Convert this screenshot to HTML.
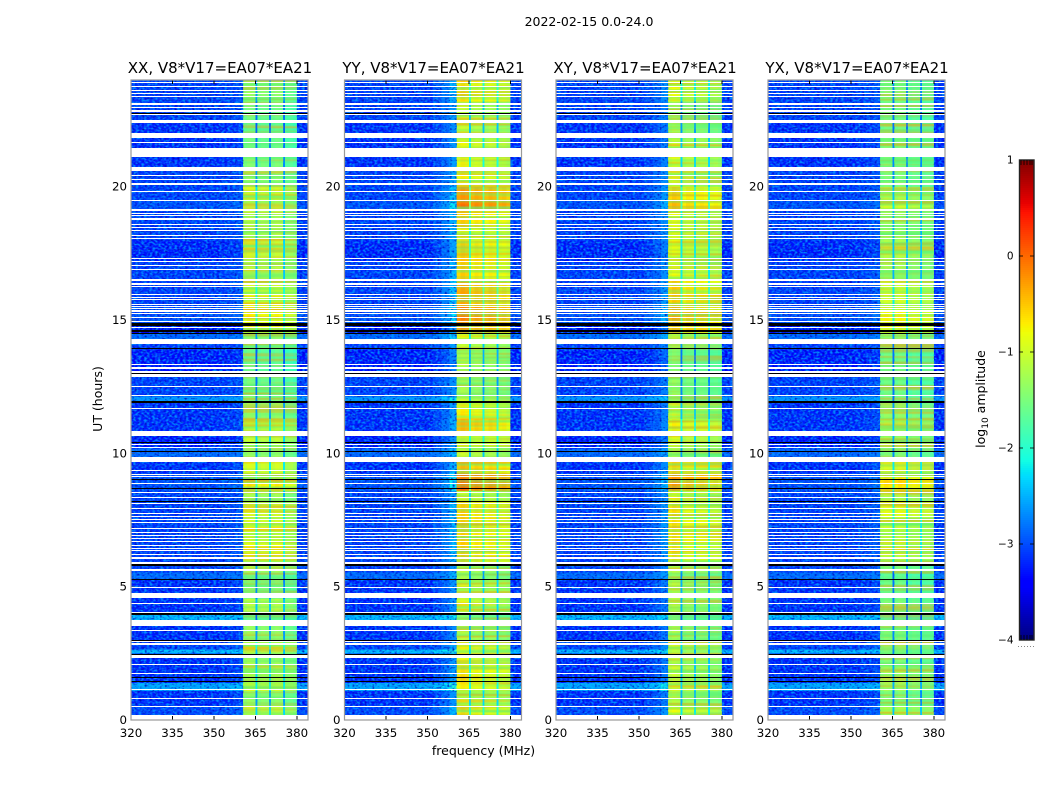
<!DOCTYPE html>
<html>
<head>
<meta charset="utf-8">
<title>2022-02-15 amplitude waterfall</title>
<style>
html,body{margin:0;padding:0;background:#fff;width:1050px;height:800px;overflow:hidden}
svg{display:block}
text{font-family:"DejaVu Sans","Liberation Sans",sans-serif;fill:#000}
.tick{font-size:11.8px}
.title{font-size:15px}
.label{font-size:12.5px}
</style>
</head>
<body>
<svg id="chart" width="1050" height="800" viewBox="0 0 1050 800" xmlns="http://www.w3.org/2000/svg">
  <defs>
    <filter id="speck-light" x="0" y="0" width="100%" height="100%" color-interpolation-filters="sRGB">
      <feTurbulence type="fractalNoise" baseFrequency="0.36 0.5" numOctaves="1" seed="3"/>
      <feColorMatrix type="matrix" values="0 0 0 0 0  0 0 0 0 0.55  0 0 0 0 1  3 0 0 0 -1.2"/>
    </filter>
    <filter id="speck-dark" x="0" y="0" width="100%" height="100%" color-interpolation-filters="sRGB">
      <feTurbulence type="fractalNoise" baseFrequency="0.4 0.55" numOctaves="1" seed="11"/>
      <feColorMatrix type="matrix" values="0 0 0 0 0  0 0 0 0 0  0 0 0 0 0.7  0 3 0 0 -1.6"/>
    </filter>
    <filter id="streak-cool" x="0" y="0" width="100%" height="100%" color-interpolation-filters="sRGB">
      <feTurbulence type="fractalNoise" baseFrequency="0.006 0.3" numOctaves="1" seed="5"/>
      <feColorMatrix type="matrix" values="0 0 0 0 0.35  0 0 0 0 0.95  0 0 0 0 0.45  2 0 0 0 -0.75"/>
    </filter>
    <filter id="streak-warm" x="0" y="0" width="100%" height="100%" color-interpolation-filters="sRGB">
      <feTurbulence type="fractalNoise" baseFrequency="0.006 0.34" numOctaves="1" seed="19"/>
      <feColorMatrix type="matrix" values="0 0 0 0 1  0 0 0 0 0.6  0 0 0 0 0  0 2 0 0 -0.95"/>
    </filter>
  </defs>
  <text x="589" y="26" text-anchor="middle" font-size="12.5">2022-02-15 0.0-24.0</text>
  <text class="label" x="483.5" y="755" text-anchor="middle">frequency (MHz)</text>
  <text class="label" x="0" y="0" text-anchor="middle" transform="translate(102,399) rotate(-90)">UT (hours)</text>
  <text class="label" x="0" y="0" text-anchor="middle" transform="translate(985,399) rotate(-90)">log<tspan font-size="9" dy="3">10</tspan><tspan dy="-3"> amplitude</tspan></text>
</svg>
<script>
// Time-bin edges (UT hours).
var timeEdges = [0,0.55,1.1,1.4,2.05,2.5,2.65,2.95,3.75,3.95,4.55,5.3,5.55,5.9,7.4,8.2,8.6,9.25,9.87,10.2,10.85,11.3,11.9,12.15,13,13.9,14.3,14.5,14.9,15.5,16.5,17.2,18,18.5,19.1,19.5,20,20.6,21.45,22,22.5,23.2,24];
// Off-band log10 amplitude per time bin.
var backgroundLevels = [-3.1,-3.25,-2.5,-3.25,-3.25,-2.4,-3.15,-3.25,-2.4,-3.25,-3.25,-2.9,-3.15,-3.15,-3.15,-3.15,-3.05,-3.25,-2.9,-3.35,-3.25,-3.25,-2.6,-3.15,-3.35,-3.15,-2.9,-3.5,-3.05,-3.15,-3.15,-3.3,-3.15,-3.15,-3.05,-3.15,-3.15,-3.25,-3.25,-3.25,-3.15,-3.15];
// In-band log10 amplitude per time bin, one array per correlation.
var bandXX = [-1.2,-1.5,-1.1,-1.2,-1.4,-1.3,-1.0,-1.5,-1.8,-1.3,-1.6,-1.7,-1.4,-1.0,-1.1,-1.4,-0.8,-1.1,-1.5,-1.2,-1.1,-1.5,-1.6,-1.7,-1.8,-1.7,-1.5,-0.8,-0.9,-1.0,-1.3,-1.2,-1.3,-1.3,-1.3,-1.1,-1.5,-1.6,-1.7,-1.8,-1.7,-1.5];
var bandYY = [-0.9,-1.2,-1.0,-0.9,-1.1,-1.2,-1.1,-1.4,-1.7,-1.2,-1.2,-1.5,-1.4,-0.8,-0.8,-1.2,-0.3,-0.7,-1.3,-1.0,-0.7,-1.0,-1.3,-1.5,-1.4,-1.3,-1.1,-0.5,-0.4,-0.6,-0.8,-0.8,-1.0,-0.8,-0.3,-0.5,-1.0,-1.0,-1.1,-1.3,-1.3,-0.9];
var bandXY = [-1.1,-1.4,-1.2,-1.3,-1.3,-1.4,-1.2,-1.5,-1.8,-1.4,-1.4,-1.6,-1.4,-0.9,-0.9,-1.1,-0.5,-0.9,-1.5,-1.2,-1.0,-1.3,-1.6,-1.6,-1.7,-1.5,-1.3,-0.7,-0.6,-0.8,-1.1,-1.1,-1.1,-1.1,-0.7,-0.8,-1.2,-1.2,-1.3,-1.5,-1.6,-1.1];
var bandYX = [-1.3,-1.6,-1.4,-1.4,-1.6,-1.6,-1.5,-1.6,-1.9,-1.6,-1.7,-1.8,-1.6,-1.1,-1.0,-1.3,-0.8,-1.1,-1.6,-1.4,-1.3,-1.5,-1.7,-1.7,-1.7,-1.7,-1.5,-0.9,-0.9,-1.1,-1.4,-1.3,-1.4,-1.4,-1.1,-1.3,-1.6,-1.6,-1.6,-1.7,-1.7,-1.6];
// Frequency-bin edges (MHz) with each bin's role and in-band offset.
var channelEdges = [320,352,355,358,360.5,362,363.5,365,365.7,367,368.5,369.9,370.6,372,373.5,375,375.7,377,378.5,380,384];
var channelRoles = ['bg','tail1','tail2','tail3','s0','s0','s0','gap','s1','s1','s1','gap','s2','s2','s2','gap','s3','s3','s3','bg'];
var channelShape = [0,0,0,0,-0.05,0.05,0,-1.1,-0.05,0.05,0,-1.1,-0.05,0.05,0,-1.1,0,0.05,-0.05,0];
var tailFractions = [0.07,0.16,0.3];
// Per-panel sub-band offsets and tail strength.
var subbandXX = [0.15,0.05,0.1,-0.15];
var subbandYY = [0.25,0.1,0.05,-0.05];
var subbandXY = [0.25,0.05,0,-0.1];
var subbandYX = [0.1,0.1,-0.05,-0.1];
var tailStrength = [0.25,1,0.8,0.3];
// Fully flagged (white) time ranges in UT hours.
var flaggedRanges = [[0,0.19],[0.48,0.51],[0.78,0.81],[1.1,1.15],[1.71,1.75],[2.05,2.09],[2.34,2.44],[2.82,2.88],[2.93,2.97],[3.34,3.38],[3.55,3.76],[4.02,4.06],[4.35,4.39],[4.55,4.75],[4.96,5],[5.56,5.65],[5.85,5.91],[6.01,6.1],[6.18,6.23],[6.31,6.36],[6.41,6.46],[6.52,6.56],[6.68,6.71],[6.78,6.81],[6.9,6.94],[7.02,7.06],[7.15,7.2],[7.38,7.43],[7.5,7.54],[7.6,7.64],[7.7,7.75],[7.9,7.94],[8.07,8.12],[8.33,8.38],[8.52,8.56],[8.83,8.87],[9.11,9.15],[9.2,9.24],[9.31,9.36],[9.7,9.87],[10.19,10.24],[10.3,10.35],[10.65,10.85],[11.64,11.69],[12.15,12.19],[12.49,12.53],[12.86,12.96],[13.02,13.1],[13.17,13.23],[13.3,13.34],[14.1,14.29],[14.71,14.75],[14.93,14.97],[15.09,15.13],[15.21,15.25],[15.32,15.38],[15.42,15.46],[15.5,15.53],[15.57,15.61],[15.75,15.79],[15.84,15.88],[15.94,15.98],[16.22,16.26],[16.32,16.38],[16.46,16.52],[16.89,16.93],[17.03,17.07],[17.18,17.21],[17.28,17.33],[18.04,18.08],[18.15,18.19],[18.32,18.36],[18.43,18.47],[18.56,18.6],[18.73,18.82],[18.88,18.92],[18.98,19.01],[19.11,19.18],[19.45,19.5],[19.77,19.82],[20.06,20.12],[20.23,20.28],[20.37,20.42],[20.59,20.74],[21.12,21.44],[21.65,21.68],[21.84,22.01],[22.38,22.5],[22.67,22.71],[22.8,22.86],[22.94,22.98],[23.04,23.13],[23.36,23.4],[23.47,23.51],[23.58,23.62],[23.71,23.76],[23.87,23.91]];
// Zero-amplitude (black) time ranges in UT hours.
var blackRanges = [[1.44,1.47],[1.56,1.6],[2.45,2.49],[2.97,3],[3.94,4.02],[5.25,5.29],[5.79,5.85],[8.18,8.22],[8.65,8.69],[9,9.04],[10.05,10.1],[10.4,10.44],[11.9,11.97],[13,13.02],[13.89,13.94],[14.5,14.53],[14.56,14.63],[14.77,14.87],[22.73,22.78]];
// Axis ticks and labels.
var freqTicks = [320,335,350,365,380];
var hourTicks = [0,5,10,15,20];
var colorbarTicks = [1,0,-1,-2,-3,-4];
var panelNames = ['XX','YY','XY','YX'];
var panelLefts = [131,344.5,556,768];

var bandSeries = [bandXX,bandYY,bandXY,bandYX];
var subbandSeries = [subbandXX,subbandYY,subbandXY,subbandYX];
var NS = 'http://www.w3.org/2000/svg';
var chart = document.getElementById('chart');
var PANEL_W = 177, PANEL_TOP = 80, PANEL_BOTTOM = 720;

function yScale(h){ return PANEL_BOTTOM - (h/24)*(PANEL_BOTTOM-PANEL_TOP); }
function xScale(left,f){ return left + (f-320)*(PANEL_W/64); }
function cbScale(v){ return 640 - (v+4)*96; }
function ramp(t,pts){
  for(var i=1;i<pts.length;i++){
    if(t<=pts[i][0]){
      var a=pts[i-1],b=pts[i];
      return a[1]+(b[1]-a[1])*(t-a[0])/(b[0]-a[0]);
    }
  }
  return pts[pts.length-1][1];
}
function jet(v){
  var t=Math.max(0,Math.min(1,(v+4)/5));
  var r=ramp(t,[[0,0],[0.35,0],[0.66,1],[0.89,1],[1,0.5]]);
  var g=ramp(t,[[0,0],[0.125,0],[0.375,1],[0.64,1],[0.91,0],[1,0]]);
  var b=ramp(t,[[0,0.5],[0.11,1],[0.34,1],[0.65,0],[1,0]]);
  return 'rgb('+Math.round(r*255)+','+Math.round(g*255)+','+Math.round(b*255)+')';
}
function make(tag,parent,attrs){
  var el=document.createElementNS(NS,tag);
  for(var k in attrs){ el.setAttribute(k,attrs[k]); }
  parent.appendChild(el);
  return el;
}
function cellValue(p,t,c){
  var role=channelRoles[c], bg=backgroundLevels[t], band=bandSeries[p][t];
  if(role==='bg'){ return bg; }
  if(role.indexOf('tail')===0){
    var frac=tailFractions[parseInt(role.charAt(4),10)-1]*tailStrength[p];
    return bg+(band-bg)*frac;
  }
  if(role==='gap'){ return band+channelShape[c]; }
  return band+subbandSeries[p][parseInt(role.charAt(1),10)]+channelShape[c];
}

panelNames.forEach(function(name,p){
  var left=panelLefts[p];
  var panel=make('g',chart,{});
  
  

  // heatmap cells
  var cells=make('g',panel,{'shape-rendering':'crispEdges'});
  
  
  for(var t=0;t<backgroundLevels.length;t++){
    for(var c=0;c<channelRoles.length;c++){
      var x0=xScale(left,channelEdges[c]), x1=xScale(left,channelEdges[c+1]);
      var y0=yScale(timeEdges[t+1]), y1=yScale(timeEdges[t]);
      var cell=make('rect',cells,{x:x0,y:y0,width:x1-x0+0.3,height:y1-y0+0.3,fill:jet(cellValue(p,t,c))});
      
      
    }
  }

  // decorative receiver-noise texture on the off-band regions
  [[320,360.5],[380,384]].forEach(function(span){
    ['speck-light','speck-dark'].forEach(function(fid){
      var tex=make('rect',panel,{x:xScale(left,span[0]),y:PANEL_TOP,width:xScale(left,span[1])-xScale(left,span[0]),height:PANEL_BOTTOM-PANEL_TOP,filter:'url(#'+fid+')'});
      
      
    });
  });
  // decorative horizontal ripple inside each sub-band
  [[360.5,365],[365.7,369.9],[370.6,375],[375.7,380]].forEach(function(span){
    ['streak-cool','streak-warm'].forEach(function(fid){
      var tex=make('rect',panel,{x:xScale(left,span[0]),y:PANEL_TOP,width:xScale(left,span[1])-xScale(left,span[0]),height:PANEL_BOTTOM-PANEL_TOP,filter:'url(#'+fid+')'});
      
      
    });
  });

  // flagged and black rows
  var rows=make('g',panel,{'shape-rendering':'crispEdges'});
  
  
  flaggedRanges.forEach(function(r){
    var top=Math.round(yScale(r[1]));
    var el=make('rect',rows,{x:left,y:top,width:PANEL_W,height:Math.max(1,Math.round(yScale(r[0])-yScale(r[1]))),fill:'#fff'});
    
    
  });
  blackRanges.forEach(function(r){
    var top=Math.round(yScale(r[1]));
    var el=make('rect',rows,{x:left,y:top,width:PANEL_W,height:Math.max(1,Math.round(yScale(r[0])-yScale(r[1]))),fill:'#000'});
    
    
  });

  // ticks
  var ax=make('g',panel,{stroke:'#000','stroke-width':0.8,'shape-rendering':'crispEdges'});
  
  
  freqTicks.forEach(function(f){
    var x=xScale(left,f);
    make('line',ax,{x1:x,x2:x,y1:PANEL_BOTTOM,y2:PANEL_BOTTOM-4});
    make('line',ax,{x1:x,x2:x,y1:PANEL_TOP,y2:PANEL_TOP+4});
    var lab=make('text',panel,{x:x,y:737,'text-anchor':'middle','class':'tick'});
    
    
    lab.textContent=f;
  });
  hourTicks.forEach(function(h){
    var y=yScale(h);
    make('line',ax,{x1:left,x2:left+4,y1:y,y2:y,stroke:h===0?'#000':'#555'});
    make('line',ax,{x1:left+PANEL_W,x2:left+PANEL_W-4,y1:y,y2:y,stroke:h===0?'#000':'#555'});
    var lab=make('text',panel,{x:left-4,y:y+4,'text-anchor':'end','class':'tick'});
    
    
    lab.textContent=h;
  });

  // frame
  var frame=make('rect',panel,{x:left,y:PANEL_TOP,width:PANEL_W,height:PANEL_BOTTOM-PANEL_TOP,fill:'none',stroke:'#9a9a9a','stroke-width':1.2});
  
  

  var title=make('text',panel,{x:left+PANEL_W/2+0.5,y:73,'text-anchor':'middle','class':'title'});
  
  
  title.textContent=name+', V8*V17=EA07*EA21';
});

// colorbar
var cb=make('g',chart,{});


var ramps=make('g',cb,{'shape-rendering':'crispEdges'});
for(var i=0;i<240;i++){
  var lev=-4+(i+0.5)/48;
  var sw=make('rect',ramps,{x:1019,y:cbScale(-4+(i+1)/48),width:15,height:2.2,fill:jet(lev)});
  
  
}
var cbFrame=make('rect',cb,{x:1019.5,y:160,width:14.5,height:480,fill:'none',stroke:'#222','stroke-width':1.4});


colorbarTicks.forEach(function(v){
  var y=cbScale(v);
  if(v>-4&&v<1){
    make('line',cb,{x1:1019,x2:1023,y1:y,y2:y,stroke:'#000','stroke-width':0.8});
    make('line',cb,{x1:1030,x2:1034,y1:y,y2:y,stroke:'#000','stroke-width':0.8});
  }
  var lab=make('text',cb,{x:1013.5,y:y+3.5,'text-anchor':'end','font-size':'10.5'});
  
  
  lab.textContent=v<0?'\u2212'+Math.abs(v):String(v);
});
[1021,1024,1027,1030,1032].forEach(function(mx){
  make('line',cb,{x1:mx,x2:mx,y1:160,y2:165,stroke:'#000','stroke-width':0.8});
  make('line',cb,{x1:mx,x2:mx,y1:635,y2:640,stroke:'#000','stroke-width':0.8});
});
[1018,1021,1024,1027,1030,1033].forEach(function(dx){
  var dot=make('rect',cb,{x:dx,y:646,width:1,height:1,fill:'#888'});
  
  
});
</script>
</body>
</html>
